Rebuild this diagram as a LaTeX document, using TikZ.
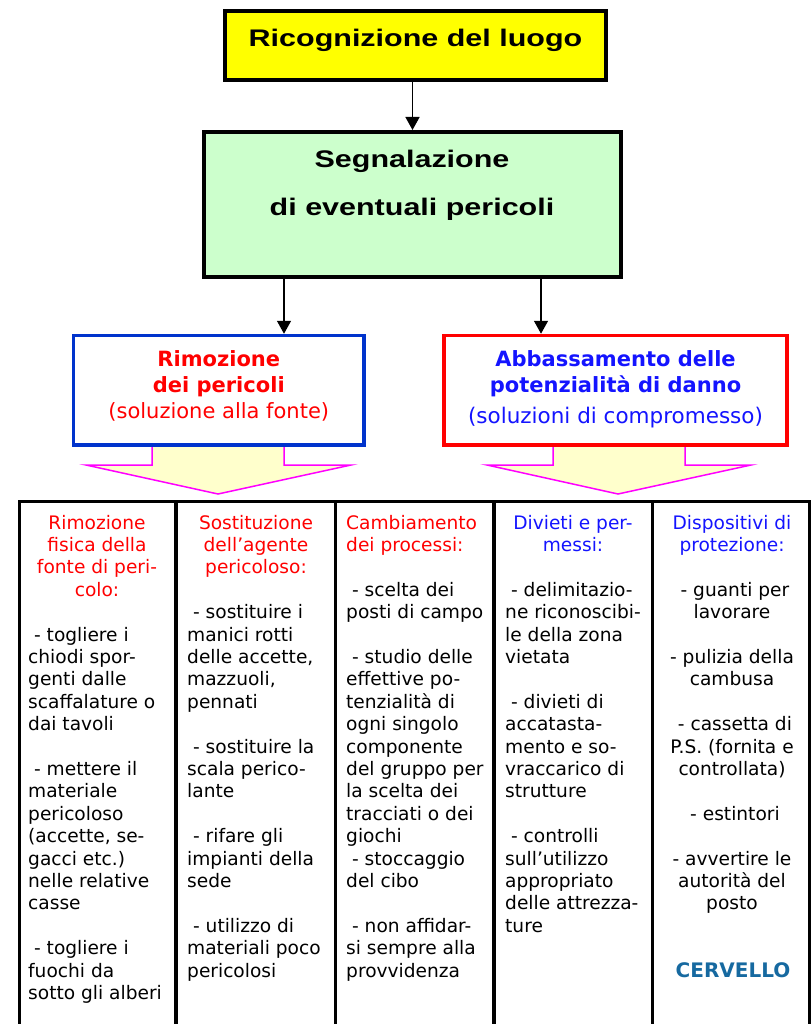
\documentclass[tikz,border=0pt]{standalone}
\usepackage{fontspec}
\setmainfont{DejaVu Sans}
\newfontfamily\topfont[FakeStretch=1.27]{Liberation Sans}
\usetikzlibrary{arrows.meta}
\definecolor{ytop}{HTML}{FFFF00}
\definecolor{gfill}{HTML}{CCFFCC}
\definecolor{bbord}{HTML}{0033CC}
\definecolor{redtx}{HTML}{FF0000}
\definecolor{bluetx}{RGB}{20,20,255}
\definecolor{magf}{HTML}{FF00FF}
\definecolor{funfill}{HTML}{FFFFCC}
\definecolor{cerv}{RGB}{22,105,160}
\newcommand\colrows[5]{%
  \foreach \k/\t in {#5} {\node[#4, anchor=#3] (#1\k) at (#2, {529+22.4*\k}) {\t};}}
\begin{document}
\begin{tikzpicture}[x=1pt,y=-1pt,
  box/.style={draw, rectangle, inner sep=0pt, line join=miter},
  arr/.style={line width=1.5pt, -{Triangle[length=13pt,width=14pt]}},
  funnel/.style={draw=magf, fill=funfill, line width=1.5pt, line join=miter},
  txt/.style={inner sep=0pt},
  headt/.style={txt, font={\topfont\bfseries\fontsize{24}{28}\selectfont}},
  midb/.style={txt, font={\bfseries\fontsize{21}{26}\selectfont}},
  midr/.style={txt, font={\fontsize{21}{26}\selectfont}},
  colt/.style={txt, font={\fontsize{18.6}{22.4}\selectfont}},
  colline/.style={line width=2.5pt, line join=miter},
  divline/.style={line width=3.5pt}
]
\useasboundingbox (0,0) rectangle (811,1024);
\fill[white] (0,0) rectangle (811,1024);

% funnels (drawn under the boxes)
\filldraw[funnel] (152,445) -- (152,465) -- (86,465) -- (218,494) -- (351,465) -- (284,465) -- (284,445);
\filldraw[funnel] (553,445) -- (553,465) -- (487,465) -- (618,494) -- (751,465) -- (685,465) -- (685,445);

% boxes
\node[box, fill=ytop, line width=4pt, minimum width=381pt, minimum height=69pt] (top) at (415.5,46) {};
\node[box, fill=gfill, line width=4pt, minimum width=417pt, minimum height=144.5pt] (green) at (412.5,204.25) {};
\node[box, fill=white, draw=bbord, line width=3.5pt, minimum width=290.5pt, minimum height=109.5pt] (blue) at (218.75,390.25) {};
\node[box, fill=white, draw=redtx, line width=3.5pt, minimum width=343pt, minimum height=109.5pt] (red) at (615.5,390.25) {};

% box texts
\node[headt, anchor=base] (t1) at (415.5,47) {Ricognizione del luogo};
\node[headt, anchor=base] (t2) at (412,168) {Segnalazione};
\node[headt, anchor=base] (t3) at (412,216) {di eventuali pericoli};
\node[midb, text=redtx, anchor=base] (b1) at (218.75,366) {Rimozione};
\node[midb, text=redtx, anchor=base] (b2) at (218.75,392) {dei pericoli};
\node[midr, text=redtx, anchor=base] (b3) at (218.75,418) {(soluzione alla fonte)};
\node[midb, text=bluetx, anchor=base] (r1) at (615.5,366) {Abbassamento delle};
\node[midb, text=bluetx, anchor=base] (r2) at (615.5,392) {potenzialità di danno};
\node[txt, font={\fontsize{21.5}{26}\selectfont}, text=bluetx, anchor=base] (r3) at (615.5,423) {(soluzioni di compromesso)};

% connectors
\coordinate (xl) at (284,0);
\coordinate (xr) at (541,0);
\draw[arr] (green.north |- top.south) -- (green.north);
\draw[arr] (green.south -| xl) -- (blue.north -| xl);
\draw[arr] (green.south -| xr) -- (red.north -| xr);

% table columns
\draw[colline] (19.5,1024) -- (19.5,501.5) -- (809.5,501.5) -- (809.5,1024);
\foreach \xx in {176,335.5,494,652.5} \draw[divline] (\xx,500.5) -- (\xx,1024);

% column 1
\colrows{ca}{97}{base}{colt, text=redtx}{0/Rimozione, 1/fisica della, 2/fonte di peri-, 3/colo:}
\colrows{cb}{28}{base west}{colt}{5/\ - togliere i, 6/chiodi spor-, 7/genti dalle, 8/scaffalature o, 9/dai tavoli, 11/\ - mettere il, 12/materiale, 13/pericoloso, 14/{(accette, se-}, 15/gacci etc.), 16/nelle relative, 17/casse, 19/\ - togliere i, 20/fuochi da, 21/sotto gli alberi}
% column 2
\colrows{da}{256}{base}{colt, text=redtx}{0/Sostituzione, 1/dell’agente, 2/pericoloso:}
\colrows{db}{187}{base west}{colt}{4/\ - sostituire i, 5/manici rotti, 6/{delle accette,}, 7/{mazzuoli,}, 8/pennati, 10/\ - sostituire la, 11/scala perico-, 12/lante, 14/\ - rifare gli, 15/impianti della, 16/sede, 18/\ - utilizzo di, 19/materiali poco, 20/pericolosi}
% column 3
\colrows{ea}{346}{base west}{colt, text=redtx}{0/Cambiamento, 1/dei processi:}
\colrows{eb}{346}{base west}{colt}{3/\ - scelta dei, 4/posti di campo, 6/\ - studio delle, 7/effettive po-, 8/tenzialità di, 9/ogni singolo, 10/componente, 11/del gruppo per, 12/la scelta dei, 13/tracciati o dei, 14/giochi, 15/\ - stoccaggio, 16/del cibo, 18/\ - non affidar-, 19/si sempre alla, 20/provvidenza}
% column 4
\colrows{fa}{573}{base}{colt, text=bluetx}{0/Divieti e per-, 1/messi:}
\colrows{fb}{505}{base west}{colt}{3/\ - delimitazio-, 4/ne riconoscibi-, 5/le della zona, 6/vietata, 8/\ - divieti di, 9/accatasta-, 10/mento e so-, 11/vraccarico di, 12/strutture, 14/\ - controlli, 15/sull’utilizzo, 16/appropriato, 17/delle attrezza-, 18/ture}
% column 5
\colrows{ga}{732}{base}{colt, text=bluetx}{0/Dispositivi di, 1/protezione:}
\colrows{gb}{732}{base}{colt}{3/\ - guanti per, 4/lavorare, 6/- pulizia della, 7/cambusa, 9/\ - cassetta di, 10/P.S. (fornita e, 11/controllata), 13/\ - estintori, 15/- avvertire le, 16/autorità del, 17/posto}
\node[txt, font={\bfseries\fontsize{20}{24}\selectfont}, text=cerv, anchor=base] (cervello) at (733,977) {CERVELLO};
\end{tikzpicture}
\end{document}
